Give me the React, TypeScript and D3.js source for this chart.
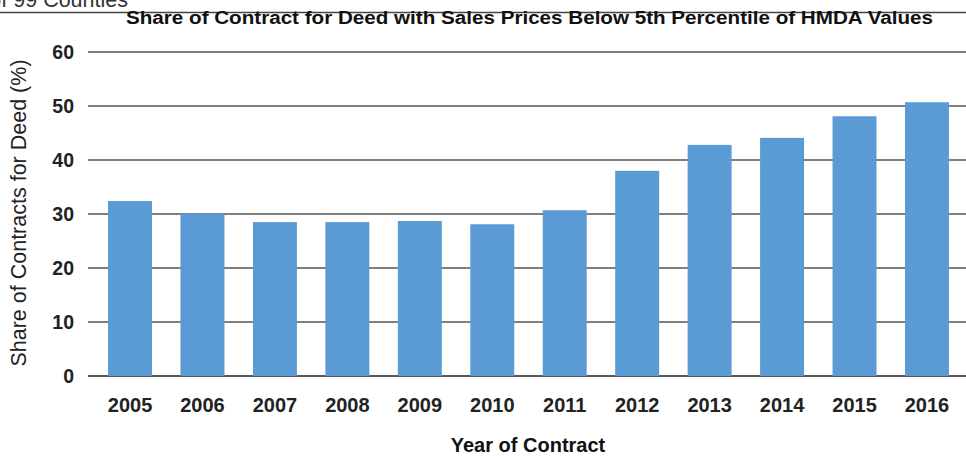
import React from "react";
import * as d3 from "d3";

const years = ["2005","2006","2007","2008","2009","2010","2011","2012","2013","2014","2015","2016"];
const shares = [32.4, 30.1, 28.5, 28.5, 28.7, 28.1, 30.7, 38.0, 42.8, 44.1, 48.1, 50.7];
const yTicks = [0, 10, 20, 30, 40, 50, 60];

const W = 966, H = 457;
const FONT = "'Liberation Sans', Arial, Helvetica, sans-serif";

export default function App() {
  const x = d3.scaleBand<string>().domain(years).range([93.8, 963.2]).paddingInner(0.393).paddingOuter(0.1965);
  const y = d3.scaleLinear().domain([0, 60]).range([376, 52]);
  return (
    <svg width={W} height={H} style={{ position: "absolute", left: 0, top: 0, background: "#fff" }} fontFamily={FONT}>
      <text x={128} y={7} textAnchor="end" fontSize={21.5} fill="#333">Sample of 99 Counties</text>
      <line x1={0} x2={W} y1={12.5} y2={12.5} stroke="#444" strokeWidth={1.3} />
      <text x={529.5} y={24} textAnchor="middle" fontSize={18} fontWeight="bold" fill="#111" textLength={807} lengthAdjust="spacingAndGlyphs">Share of Contract for Deed with Sales Prices Below 5th Percentile of HMDA Values</text>
      {yTicks.map(t => (
        <g key={t}>
          <line x1={88} x2={W} y1={y(t)} y2={y(t)} stroke={t === 0 ? "#222" : "#555"} strokeWidth={1.6} />
          <text x={74} y={y(t) + 7} textAnchor="end" fontSize={19.5} fontWeight="bold" fill="#222">{t}</text>
        </g>
      ))}
      {years.map((yr, i) => (
        <rect key={yr} x={x(yr)} y={y(shares[i])} width={x.bandwidth()} height={y(0) - y(shares[i])} fill="#5b9bd5" />
      ))}
      {years.map(yr => (
        <text key={yr} x={(x(yr) as number) + x.bandwidth() / 2} y={412} textAnchor="middle" fontSize={20} fontWeight="bold" fill="#222">{yr}</text>
      ))}
      <text x={528} y={452} textAnchor="middle" fontSize={20} fontWeight="bold" fill="#111">Year of Contract</text>
      <text transform={`translate(26, 213) rotate(-90)`} textAnchor="middle" fontSize={21.5} fill="#222">Share of Contracts for Deed (%)</text>
    </svg>
  );
}
